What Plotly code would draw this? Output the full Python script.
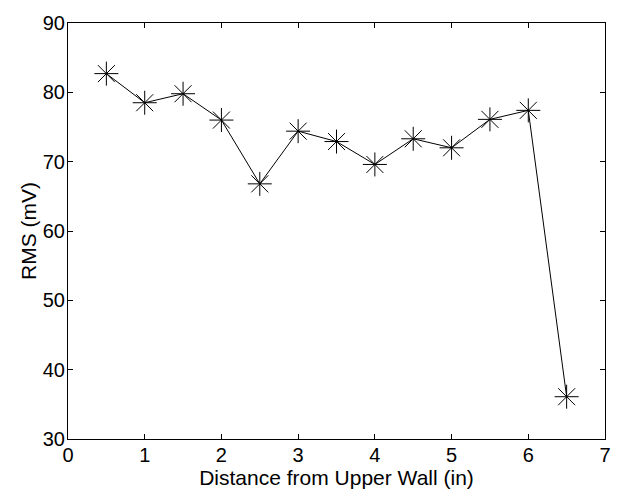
import plotly.graph_objects as go

distance = [0.5, 1.0, 1.5, 2.0, 2.5, 3.0, 3.5, 4.0, 4.5, 5.0, 5.5, 6.0, 6.5]
rms = [82.7, 78.5, 79.8, 76.0, 66.8, 74.4, 72.9, 69.6, 73.3, 72.0, 76.1, 77.4, 36.1]
x_ticks = [0, 1, 2, 3, 4, 5, 6, 7]
y_ticks = [30, 40, 50, 60, 70, 80, 90]

fig = go.Figure()
fig.add_trace(go.Scatter(
    x=distance, y=rms, mode="lines+markers",
    line=dict(color="black", width=1),
    marker=dict(symbol="asterisk-open", size=20, color="black",
                line=dict(color="black", width=1)),
    showlegend=False,
))

tick_font = dict(family="Liberation Sans, Arial, sans-serif", size=20, color="black")
title_font = dict(family="Liberation Sans, Arial, sans-serif", size=21, color="black")
axis_common = dict(
    showline=True, linecolor="black", linewidth=1, mirror="allticks",
    ticks="inside", ticklen=5, tickcolor="black", tickwidth=1,
    showgrid=False, zeroline=False,
    tickfont=tick_font, title_font=title_font,
)

fig.update_xaxes(range=[0, 7], tickvals=x_ticks, title_text="Distance from Upper Wall (in)",
                 title_standoff=0, ticklabelstandoff=-2, **axis_common)
fig.update_yaxes(range=[30, 90], tickvals=y_ticks, title_text="RMS (mV)",
                 title_standoff=0, ticklabelstandoff=-2, **axis_common)

fig.update_layout(
    width=623, height=493,
    margin=dict(l=68, r=12, t=15, b=51),
    plot_bgcolor="white", paper_bgcolor="white",
)

fig.write_html("out.html")
